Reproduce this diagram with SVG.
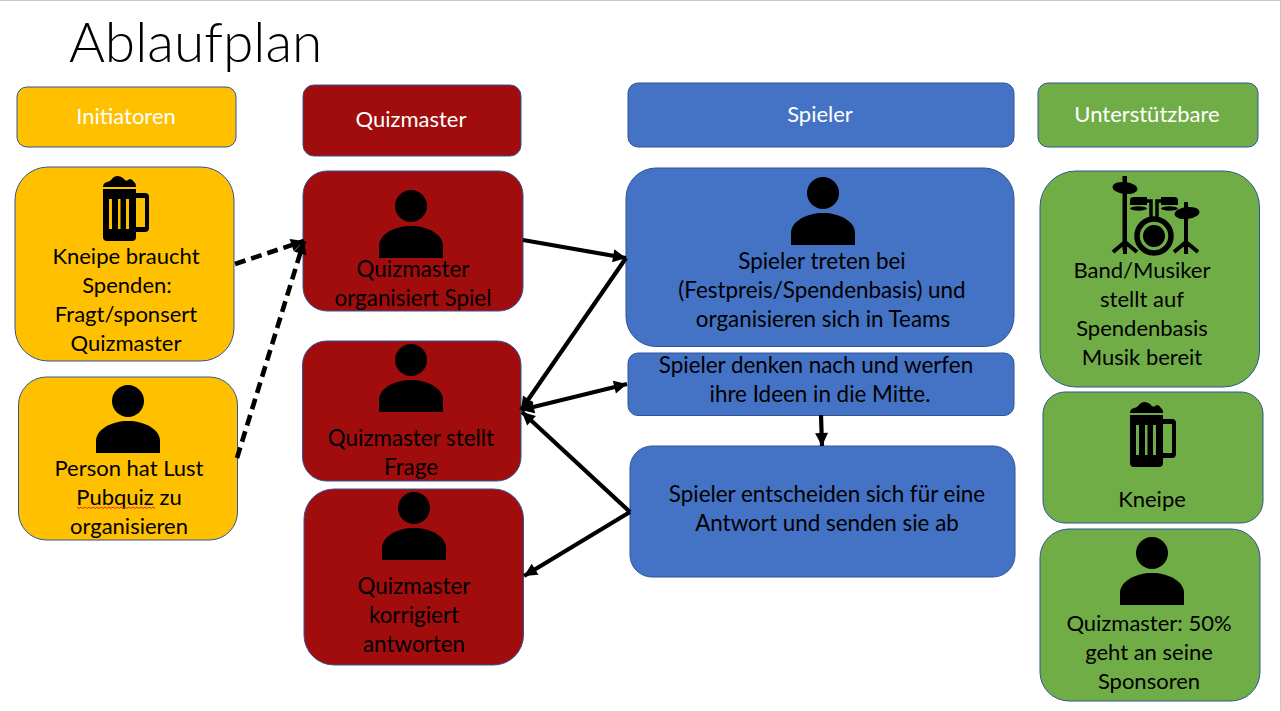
<svg xmlns="http://www.w3.org/2000/svg" xmlns:xlink="http://www.w3.org/1999/xlink" width="1281" height="711" viewBox="0 0 1281 711">
<style>
.box{stroke:#2f5597;stroke-width:1}
.y{fill:#ffc000}.r{fill:#a10d0d}.b{fill:#4472c4}.g{fill:#70ad47}
text{font-family:"Lato","Liberation Sans",sans-serif;font-size:22px;fill:#000;text-anchor:middle}
.w text{font-size:22.4px}
.h{fill:#fff}
.t{font-size:55px;font-weight:300;text-anchor:start}
.c{fill:none;stroke:#000;stroke-width:4.200}
.d{stroke-width:4.600;stroke-dasharray:11 6}
</style>
<defs>
<marker id="a" markerUnits="userSpaceOnUse" markerWidth="16" markerHeight="16" refX="14" refY="8" orient="auto-start-reverse"><path d="M1 1.500 L14 8 L1 14.500 Z" fill="#000"/></marker>
<g id="person"><circle cx="32" cy="16" r="16"/><path d="M0 68V56C0 44 16 36 32 36C48 36 64 44 64 56V68Z"/></g>
<g id="beer">
<path d="M0 12Q0 8 4 7Q6 7 8 5Q13-2 20 3Q23 7 25 5Q28 2 31 7Q33 8 33 12Z"/>
<path fill-rule="evenodd" d="M0 14H33V18H42Q46 18 46 22V53Q46 57 42 57H33V62Q33 66 29 66H4Q0 66 0 62ZM33 23V52H42V23ZM6 24V54H9V24ZM15 24V54H17.500V24ZM23 24V54H26V24Z"/>
</g>
<g id="drums">
<ellipse cx="1125" cy="188" rx="12.500" ry="6" transform="rotate(6 1125 188)"/>
<ellipse cx="1187" cy="213" rx="12.500" ry="6" transform="rotate(-6 1187 213)"/>
<rect x="1122.500" y="176" width="4.500" height="74"/>
<rect x="1184" y="202" width="4" height="48"/>
<path d="M1125 242L1113 252M1125 242V254M1125 242L1137 252M1186 242L1174 252M1186 242V254M1186 242L1198 252" fill="none" stroke="#000" stroke-width="4"/>
<circle cx="1154" cy="236" r="17" fill="none" stroke="#000" stroke-width="5.500"/>
<circle cx="1154" cy="236" r="11"/>
<path d="M1130 200Q1130 197 1134 197H1147V205H1130ZM1178 200Q1178 197 1174 197H1161V205H1178Z"/>
<ellipse cx="1138.500" cy="208.500" rx="8.500" ry="2.200"/><ellipse cx="1169.500" cy="208.500" rx="8.500" ry="2.200"/>
<path d="M1147 201H1151V218M1161 201H1157V218" fill="none" stroke="#000" stroke-width="3.500"/>
</g>
</defs>
<rect width="1281" height="711" fill="#fff"/>
<rect width="1281" height="1" fill="#c8c8c8"/>
<rect x="1280" width="1" height="711" fill="#c8c8c8"/>
<text class="t" x="69" y="61.500">Ablaufplan</text>

<g id="head-initiatoren"><rect class="box y" x="17" y="87" width="219" height="60" rx="10"/><text class="h" x="126" y="124">Initiatoren</text></g>
<g id="head-quizmaster"><rect class="box r" x="303" y="85" width="218" height="71" rx="11"/><text class="h" x="411" y="127">Quizmaster</text></g>
<g id="head-spieler"><rect class="box b" x="628" y="83" width="386" height="64" rx="10"/><text class="h" x="820" y="122">Spieler</text></g>
<g id="head-unterstuetzbare"><rect class="box g" x="1038" y="83" width="220" height="64" rx="10"/><text class="h" x="1147" y="122">Unterstützbare</text></g>

<g id="kneipe-spenden"><rect class="box y" x="15" y="167" width="219" height="194" rx="33"/><use xlink:href="#beer" x="103" y="175"/>
<text x="126" y="264">Kneipe braucht</text><text x="127" y="293">Spenden:</text><text x="126" y="322">Fragt/sponsert</text><text x="126" y="351">Quizmaster</text></g>
<g id="person-lust"><rect class="box y" x="18.500" y="377" width="219" height="163" rx="28"/><use xlink:href="#person" x="96" y="385"/>
<text x="129" y="476">Person hat Lust</text><text x="129" y="505">Pubquiz zu</text><text x="129" y="534">organisieren</text>
<path d="M77 507l2 1.500 2-1.500 2 1.500 2-1.500 2 1.500 2-1.500 2 1.500 2-1.500 2 1.500 2-1.500 2 1.500 2-1.500 2 1.500 2-1.500 2 1.500 2-1.500 2 1.500 2-1.500 2 1.500 2-1.500 2 1.500 2-1.500 2 1.500 2-1.500 2 1.500 2-1.500 2 1.500 2-1.500 2 1.500 2-1.500 2 1.500 2-1.500 2 1.500 2-1.500 2 1.500 2-1.500 2 1.500 2-1.500 2 1.500" fill="none" stroke="#e03030" stroke-width="1"/></g>

<g id="qm-organisiert" class="w"><rect class="box r" x="303" y="171" width="220" height="140" rx="24"/><use xlink:href="#person" x="379" y="190"/>
<text x="413" y="277">Quizmaster</text><text x="413" y="306">organisiert Spiel</text></g>
<g id="qm-frage" class="w"><rect class="box r" x="302.500" y="341" width="218.500" height="140" rx="24"/><use xlink:href="#person" x="379" y="344"/>
<text x="411" y="446">Quizmaster stellt</text><text x="411" y="475">Frage</text></g>
<g id="qm-korrigiert" class="w"><rect class="box r" x="304" y="489" width="219.500" height="176" rx="30"/><use xlink:href="#person" x="382" y="492"/>
<text x="414" y="594">Quizmaster</text><text x="414" y="623">korrigiert</text><text x="414" y="652">antworten</text></g>

<g id="spieler-treten" class="w"><rect class="box b" x="626" y="168" width="388" height="178.500" rx="30"/><use xlink:href="#person" x="791" y="177"/>
<text x="822" y="269">Spieler treten bei</text><text x="822" y="298">(Festpreis/Spendenbasis) und</text><text x="823" y="327">organisieren sich in Teams</text></g>
<g id="spieler-denken" class="w"><rect class="box b" x="628" y="353" width="386" height="62.500" rx="10"/>
<text x="816" y="373">Spieler denken nach und werfen</text><text x="820" y="402">ihre Ideen in die Mitte.</text></g>
<g id="spieler-entscheiden" class="w"><rect class="box b" x="630" y="446" width="385" height="131" rx="22"/>
<text x="827" y="502">Spieler entscheiden sich für eine</text><text x="827" y="531">Antwort und senden sie ab</text></g>

<g id="band"><rect class="box g" x="1040" y="171" width="219.500" height="216" rx="36"/><use xlink:href="#drums"/>
<text x="1142" y="278">Band/Musiker</text><text x="1142" y="307">stellt auf</text><text x="1142" y="336">Spendenbasis</text><text x="1142" y="365">Musik bereit</text></g>
<g id="kneipe"><rect class="box g" x="1043" y="392" width="220" height="131" rx="22"/><use xlink:href="#beer" x="1130" y="401"/>
<text x="1152" y="507">Kneipe</text></g>
<g id="qm-sponsoren"><rect class="box g" x="1040" y="529" width="220" height="172" rx="29"/><use xlink:href="#person" x="1120" y="537"/>
<text x="1149" y="631">Quizmaster: 50%</text><text x="1149" y="660">geht an seine</text><text x="1149" y="689">Sponsoren</text></g>

<g id="connectors">
<path class="c d" d="M235 264L304 241" marker-end="url(#a)"/>
<path class="c d" d="M237 458L304 241" marker-end="url(#a)"/>
<path class="c" d="M523 240L626 258" marker-end="url(#a)"/>
<path class="c" d="M626 258L521 410" marker-end="url(#a)"/>
<path class="c" d="M521 410L627 384" marker-start="url(#a)" marker-end="url(#a)"/>
<path class="c" d="M630 512L522 412" marker-end="url(#a)"/>
<path class="c" d="M630 512L524 576" marker-end="url(#a)"/>
<path class="c" d="M821 415L822 446" marker-end="url(#a)"/>
</g>
</svg>
